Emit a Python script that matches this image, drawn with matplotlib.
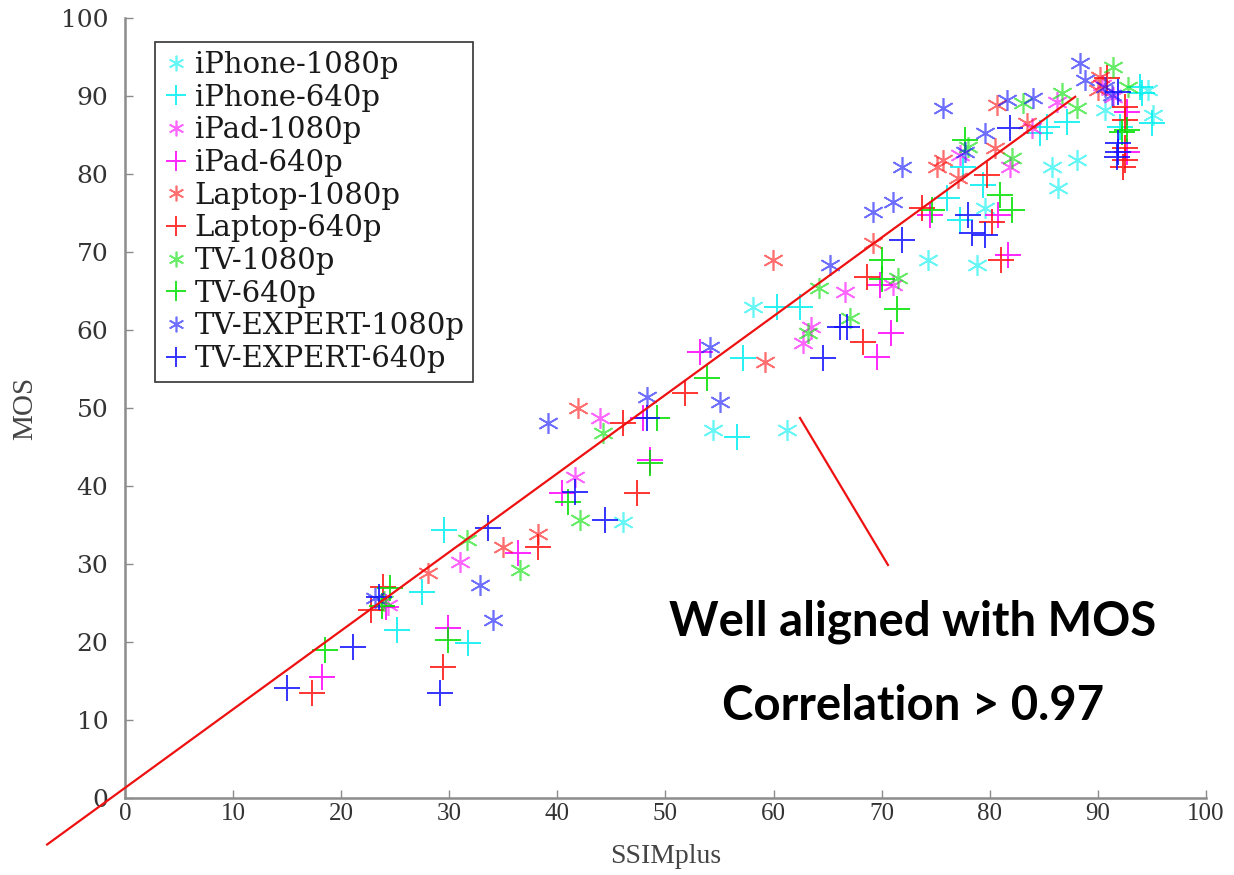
# SSIMplus vs MOS scatter, one series per device/resolution,
# with a fitted line and a callout on the right.

import numpy as np
import matplotlib.pyplot as plt
from matplotlib.lines import Line2D

# ---- data ----
iphone_1080_x = [46.1, 54.4, 61.2, 58.1, 74.3, 78.8, 79.6, 85.8, 88.1, 86.3, 90.7, 94.6, 95.1]
iphone_1080_y = [35.4, 47.2, 47.2, 62.9, 69.0, 68.3, 75.6, 80.9, 81.8, 78.2, 88.2, 90.8, 87.6]

iphone_640_x = [25.2, 27.5, 29.5, 31.7, 56.6, 57.2, 60.3, 62.4, 76.0, 77.2, 79.4, 77.5,
                84.6, 85.3, 87.1, 92.0, 94.1, 93.9, 95.0]
iphone_640_y = [21.5, 26.4, 34.4, 19.9, 46.3, 56.4, 62.9, 62.9, 76.9, 74.1, 78.6, 80.9,
                85.3, 86.0, 86.7, 86.0, 90.4, 91.2, 86.5]

ipad_1080_x = [24.3, 31.0, 41.6, 43.9, 62.7, 63.5, 66.6, 71.0, 77.2, 81.9, 83.9, 86.2, 90.4, 91.4]
ipad_1080_y = [24.8, 30.3, 41.2, 48.7, 58.3, 60.4, 64.9, 65.8, 82.4, 80.9, 85.9, 89.2, 91.4, 89.9]

ipad_640_x = [18.2, 24.1, 29.9, 36.4, 40.4, 47.9, 48.6, 53.2, 69.6, 69.8, 70.9, 74.5,
              80.8, 81.7, 92.7, 92.7]
ipad_640_y = [15.5, 24.5, 21.8, 31.4, 39.1, 48.7, 43.3, 57.2, 56.6, 65.8, 59.6, 74.7,
              74.7, 69.6, 87.9, 82.8]

laptop_1080_x = [28.0, 35.0, 38.2, 41.9, 59.2, 59.9, 69.2, 75.1, 75.7, 77.1, 80.5, 80.7,
                 83.4, 90.0, 90.2]
laptop_1080_y = [28.8, 32.2, 33.8, 50.0, 55.9, 69.0, 71.1, 80.9, 81.8, 79.5, 83.3, 88.8,
                 86.5, 90.8, 92.4]

laptop_640_x = [17.3, 22.8, 23.9, 29.4, 38.2, 46.1, 47.4, 51.8, 68.3, 68.6, 73.7, 79.7,
                80.2, 81.0, 90.8, 92.5, 92.5, 92.5, 92.5, 92.3]
laptop_640_y = [13.5, 24.1, 27.0, 16.8, 32.2, 48.1, 39.1, 51.9, 58.5, 66.8, 75.6, 79.9,
                73.8, 69.0, 92.3, 88.6, 86.9, 83.3, 81.8, 80.9]

tv_1080_x = [24.0, 31.6, 36.5, 42.1, 44.2, 63.2, 64.2, 67.1, 71.5, 78.0, 82.1, 83.1,
             86.7, 88.1, 91.4, 92.8]
tv_1080_y = [25.3, 33.1, 29.2, 35.6, 46.8, 59.6, 65.4, 61.5, 66.7, 83.5, 82.1, 89.1,
             90.4, 88.5, 93.7, 91.2]

tv_640_x = [18.5, 23.8, 24.5, 29.9, 41.0, 48.6, 49.2, 53.8, 70.0, 70.0, 71.4, 74.7,
            77.7, 80.9, 82.1, 92.7, 92.2]
tv_640_y = [19.0, 24.6, 26.9, 20.3, 37.9, 43.0, 48.7, 53.8, 69.0, 66.5, 62.7, 75.4,
            84.4, 77.3, 75.4, 85.6, 85.4]

exp_1080_x = [23.1, 32.8, 34.0, 39.1, 48.3, 54.1, 55.0, 65.2, 69.2, 71.0, 71.9, 75.7,
              77.7, 79.6, 81.6, 84.0, 88.3, 88.8, 90.7, 91.3]
exp_1080_y = [25.6, 27.3, 22.8, 48.1, 51.4, 57.8, 50.8, 68.3, 75.1, 76.4, 80.9, 88.5,
              82.8, 85.3, 89.5, 89.7, 94.2, 92.1, 91.2, 90.1]

exp_640_x = [15.0, 21.1, 23.5, 29.1, 33.6, 41.6, 44.4, 48.3, 64.6, 66.1, 66.8, 71.9,
             78.0, 78.4, 79.6, 81.9, 91.9, 91.9, 91.9, 91.8]
exp_640_y = [14.1, 19.4, 25.8, 13.5, 34.6, 39.2, 35.6, 48.7, 56.4, 60.4, 60.4, 71.5,
             74.7, 72.4, 72.2, 85.9, 90.5, 84.0, 82.8, 82.2]

# fitted line
fit_slope = 1.008
fit_icpt = 1.3
fit_x = [-7.2, 87.9]

ticks = list(range(0, 101, 10))

C_CYAN = "#00F0F0"
C_MAG = "#FF00FF"
C_RED = "#FF1010"
C_GRN = "#00E000"
C_BLU = "#1010FF"
STAR = (6, 2, 0)   # six-arm asterisk

series = [
    ("iPhone-1080p", iphone_1080_x, iphone_1080_y, C_CYAN, STAR),
    ("iPhone-640p", iphone_640_x, iphone_640_y, C_CYAN, "+"),
    ("iPad-1080p", ipad_1080_x, ipad_1080_y, C_MAG, STAR),
    ("iPad-640p", ipad_640_x, ipad_640_y, C_MAG, "+"),
    ("Laptop-1080p", laptop_1080_x, laptop_1080_y, C_RED, STAR),
    ("Laptop-640p", laptop_640_x, laptop_640_y, C_RED, "+"),
    ("TV-1080p", tv_1080_x, tv_1080_y, C_GRN, STAR),
    ("TV-640p", tv_640_x, tv_640_y, C_GRN, "+"),
    ("TV-EXPERT-1080p", exp_1080_x, exp_1080_y, C_BLU, STAR),
    ("TV-EXPERT-640p", exp_640_x, exp_640_y, C_BLU, "+"),
]

fig = plt.figure(figsize=(12.34, 8.75), dpi=100)
ax = fig.add_axes([0.1013, 0.088, 0.876, 0.8914])

for name, xs, ys, col, mk in series:
    if mk == "+":
        ax.plot(xs, ys, ls="none", marker=mk, ms=19, mew=1.4, mec=col,
                alpha=0.85, label=name)
    else:
        ax.plot(xs, ys, ls="none", marker=mk, ms=15, mew=1.2, mec=col,
                alpha=0.6, label=name)

fx = np.array(fit_x)
ax.plot(fx, fit_slope * fx + fit_icpt, color="#EE1111", lw=1.6,
        clip_on=False, zorder=5)

ax.set_xlim(0, 100)
ax.set_ylim(0, 100)
ax.set_xticks(ticks)
ax.set_yticks(ticks)
for s in ("top", "right"):
    ax.spines[s].set_visible(False)
for s in ("left", "bottom"):
    ax.spines[s].set_color("#8c8c8c")
    ax.spines[s].set_linewidth(1.8)
ax.tick_params(direction="in", length=6, width=1, color="#8c8c8c",
               labelcolor="#333333")
ax.tick_params(axis="y", pad=12)
for lab in ax.get_xticklabels():
    lab.set_fontfamily("Liberation Serif")
    lab.set_fontsize(18)
for lab in ax.get_yticklabels():
    lab.set_fontfamily("DejaVu Serif")
    lab.set_fontsize(18)

ax.set_xlabel("SSIMplus", fontfamily="Liberation Serif", fontsize=20,
              color="#444444", labelpad=14)
ax.set_ylabel("MOS", fontfamily="Liberation Serif", fontsize=21,
              color="#444444", labelpad=16)

leg = ax.legend(loc="upper left", bbox_to_anchor=(0.028, 0.969),
                borderaxespad=0, fancybox=False, framealpha=1,
                edgecolor="#333333", handlelength=0.8, handletextpad=0.25,
                labelspacing=0.16, borderpad=0.3, markerscale=0.75,
                prop={"family": "DejaVu Serif", "size": 21})
leg.get_frame().set_linewidth(1.2)
for t in leg.get_texts():
    t.set_color("#1a1a1a")

# callout
fig.add_artist(Line2D([800 / 1234, 888 / 1234], [1 - 418 / 875, 1 - 565 / 875],
                      transform=fig.transFigure, color="#EE1111", lw=1.6))
fig.text(913 / 1234, 1 - 622 / 875, "Well aligned with MOS", ha="center",
         va="center", fontsize=34, fontweight="bold", family="Lato")
fig.text(913 / 1234, 1 - 706 / 875, "Correlation > 0.97", ha="center",
         va="center", fontsize=34, fontweight="bold", family="Lato")

fig.savefig("out.png", dpi=100)
